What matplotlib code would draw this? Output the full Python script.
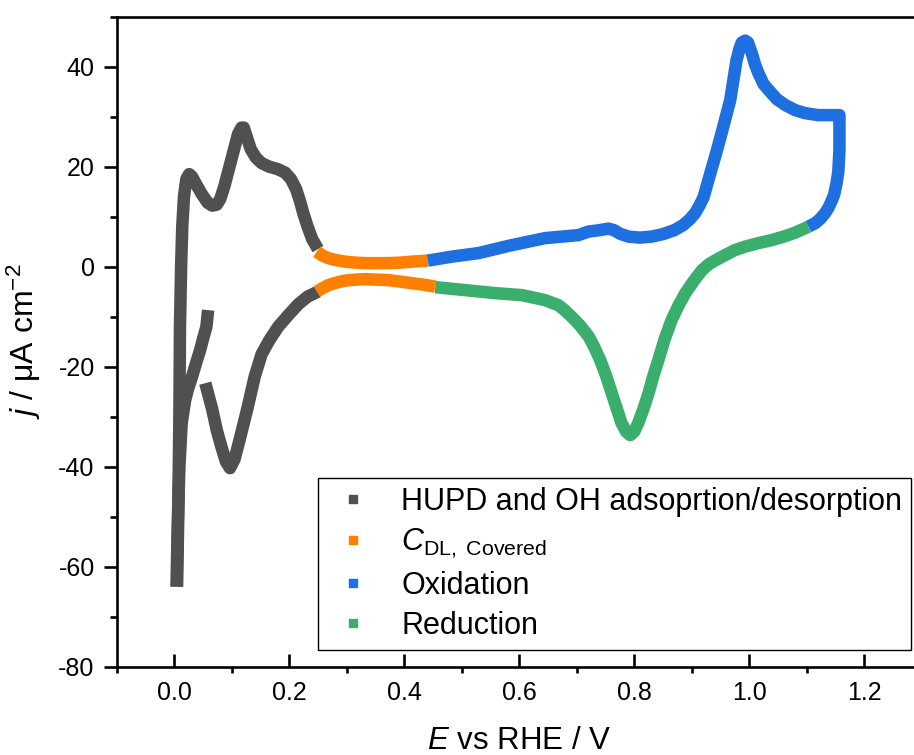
import numpy as np
import matplotlib
matplotlib.use("Agg")
import matplotlib.pyplot as plt
from matplotlib.lines import Line2D
from matplotlib.ticker import MultipleLocator, FormatStrFormatter

plt.rcParams['font.family'] = ['Liberation Sans', 'DejaVu Sans']
plt.rcParams['mathtext.fontset'] = 'custom'
plt.rcParams['mathtext.rm'] = 'Liberation Sans'
plt.rcParams['mathtext.it'] = 'Liberation Sans:italic'
plt.rcParams['axes.unicode_minus'] = False

nan = np.nan

# HUPD / OH region (grey) - anodic and cathodic sweeps
hupd_an_E = [0.005, 0.007, 0.009, 0.010, 0.012, 0.014, 0.017, 0.021, 0.026, 0.031, 0.038, 0.048,
             0.058, 0.066, 0.074, 0.080, 0.087, 0.095, 0.103, 0.111, 0.117, 0.121, 0.126, 0.133,
             0.142, 0.152, 0.165, 0.180, 0.193, 0.203, 0.212, 0.219, 0.225, 0.232, 0.240, 0.250]
hupd_an_j = [-64, -50, -30, -12, 0, 8, 14, 17.5, 18.5, 18, 16.5, 14.5,
             12.8, 12.2, 12.4, 13.5, 16, 19.5, 23, 26.5, 27.8, 27.8, 26, 23.5,
             21.8, 20.7, 20, 19.5, 18.8, 17.5, 15.5, 13, 10.5, 8, 5.5, 3.5]
hupd_ca_E = [0.250, 0.232, 0.216, 0.200, 0.181, 0.165, 0.152, 0.140, 0.127, 0.114, 0.105, 0.097,
             0.090, 0.082, 0.074, 0.066, 0.058, 0.054,
             nan, 0.059, 0.056, 0.050, 0.045, 0.038, 0.031, 0.024, 0.019, 0.013, 0.009, 0.006, 0.004]
hupd_ca_j = [-5.0, -6.0, -7.5, -9.5, -12.0, -14.8, -17.5, -22, -28.5, -34.5, -38.5, -40.3,
             -39, -36, -32.7, -28.5, -25, -23.3,
             nan, -8.7, -12, -14.5, -16.7, -19.3, -22, -24.5, -26.7, -31.3, -40, -52, -64]

# double layer region (orange)
cdl_an_E = [0.248, 0.258, 0.268, 0.282, 0.297, 0.315, 0.332, 0.352, 0.373, 0.393, 0.413, 0.441]
cdl_an_j = [3.0, 2.2, 1.7, 1.3, 1.0, 0.8, 0.7, 0.7, 0.7, 0.8, 1.0, 1.2]
cdl_ca_E = [0.454, 0.433, 0.413, 0.393, 0.373, 0.352, 0.332, 0.315, 0.297, 0.282, 0.268, 0.258, 0.248]
cdl_ca_j = [-4.0, -3.6, -3.3, -3.0, -2.7, -2.6, -2.5, -2.6, -2.8, -3.2, -3.7, -4.3, -5.0]

# oxidation (blue)
ox_E = [0.441, 0.483, 0.529, 0.587, 0.645, 0.703, 0.720, 0.740, 0.755, 0.765, 0.775, 0.790,
        0.810, 0.830, 0.850, 0.870, 0.885, 0.897, 0.906, 0.914, 0.921, 0.929, 0.944, 0.955,
        0.967, 0.978, 0.983, 0.987, 0.993, 0.998, 1.005, 1.010, 1.016, 1.025, 1.034, 1.048,
        1.063, 1.080, 1.097, 1.120, 1.144, 1.157, 1.157, 1.155, 1.152, 1.148, 1.144, 1.138,
        1.132, 1.124, 1.115, 1.103]
ox_j = [1.2, 2.0, 2.7, 4.3, 5.7, 6.3, 7.0, 7.3, 7.6, 7.3, 6.6, 6.0,
        5.8, 6.0, 6.5, 7.3, 8.3, 9.5, 10.7, 12.3, 14, 17.3, 23.3, 28,
        33.3, 41.3, 43.5, 44.8, 45.2, 44.8, 42.5, 40.5, 38.7, 36.5, 35.3, 33.5,
        32.3, 31.3, 30.7, 30.3, 30.3, 30.3, 23.3, 19, 16.7, 14.5, 13.3, 11.8,
        10.7, 9.6, 8.7, 8.0]

# reduction (green)
red_E = [1.103, 1.080, 1.060, 1.039, 1.016, 0.993, 0.975, 0.958, 0.945, 0.930, 0.918, 0.904,
         0.889, 0.877, 0.865, 0.853, 0.842, 0.833, 0.825, 0.816, 0.807, 0.800, 0.793, 0.786,
         0.778, 0.770, 0.761, 0.751, 0.741, 0.731, 0.721, 0.706, 0.691, 0.678, 0.668, 0.645,
         0.605, 0.558, 0.506, 0.454]
red_j = [8.0, 6.8, 6.0, 5.3, 4.7, 4.0, 3.3, 2.3, 1.5, 0.5, -0.7, -2.8,
         -5.3, -7.8, -10.7, -14.5, -18.7, -22, -25.3, -28.5, -31.3, -33, -33.7, -33,
         -31.3, -28.5, -25.3, -21.8, -18.7, -16.2, -14, -11.8, -10, -8.6, -7.7, -6.7,
         -5.7, -5.3, -4.7, -4.1]

labels = ["HUPD and OH adsoprtion/desorption", r"$\mathit{C}_{\mathrm{DL,\ Covered}}$",
          "Oxidation", "Reduction"]
colors = ["#505050", "#FF8000", "#1E6FE0", "#3AAE6C"]

fig = plt.figure(figsize=(9.14, 7.55), dpi=100)
ax = fig.add_axes([0.1277, 0.117, 0.8807, 0.861])

kw = dict(lw=9, solid_joinstyle='round', solid_capstyle='butt')
ax.plot(hupd_an_E, hupd_an_j, color=colors[0], **kw)
ax.plot(hupd_ca_E, hupd_ca_j, color=colors[0], **kw)
ax.plot(cdl_an_E, cdl_an_j, color=colors[1], **kw)
ax.plot(cdl_ca_E, cdl_ca_j, color=colors[1], **kw)
ax.plot(ox_E, ox_j, color=colors[2], **kw)
ax.plot(red_E, red_j, color=colors[3], **kw)

ax.set_xlim(-0.1, 1.3)
ax.set_ylim(-80, 50)
ax.xaxis.set_major_locator(MultipleLocator(0.2))
ax.xaxis.set_minor_locator(MultipleLocator(0.1))
ax.yaxis.set_major_locator(MultipleLocator(20))
ax.yaxis.set_minor_locator(MultipleLocator(10))
ax.xaxis.set_major_formatter(FormatStrFormatter('%.1f'))

for s in ax.spines.values():
    s.set_linewidth(1.9)
ax.spines['right'].set_visible(False)
ax.tick_params(axis='x', which='major', direction='in', length=9.4, width=1.9, pad=10,
               labelsize=18, top=False)
ax.tick_params(axis='x', which='minor', direction='out', length=4.6, width=1.9, top=False)
ax.tick_params(axis='y', which='major', direction='out', length=9.4, width=1.9, pad=6.5,
               labelsize=18, right=False)
ax.tick_params(axis='y', which='minor', direction='out', length=4.8, width=1.9, right=False)

ax.set_xlabel(r"$\mathit{E}$ vs RHE / V", fontsize=22.5)
ax.set_ylabel(r"$\mathit{j}$ / μA cm$^{-2}$", fontsize=23)
ax.xaxis.set_label_coords(0.5, -0.0915)
ax.xaxis.label.set_va('top')
ax.yaxis.set_label_coords(-0.091, 0.5)

handles = [Line2D([], [], ls='none', marker='s', ms=6, color=c, mec=c) for c in colors]
leg = ax.legend(handles, labels, loc='upper left', bbox_to_anchor=(318 / 914, 277 / 755),
                bbox_transform=fig.transFigure, fontsize=22, frameon=True, fancybox=False,
                edgecolor='black', framealpha=1, borderaxespad=0, handlelength=1.75,
                handletextpad=0.7, labelspacing=0.34, borderpad=0.28)
leg.get_frame().set_linewidth(1.0)

fig.savefig("out.png", dpi=100, facecolor='white')
